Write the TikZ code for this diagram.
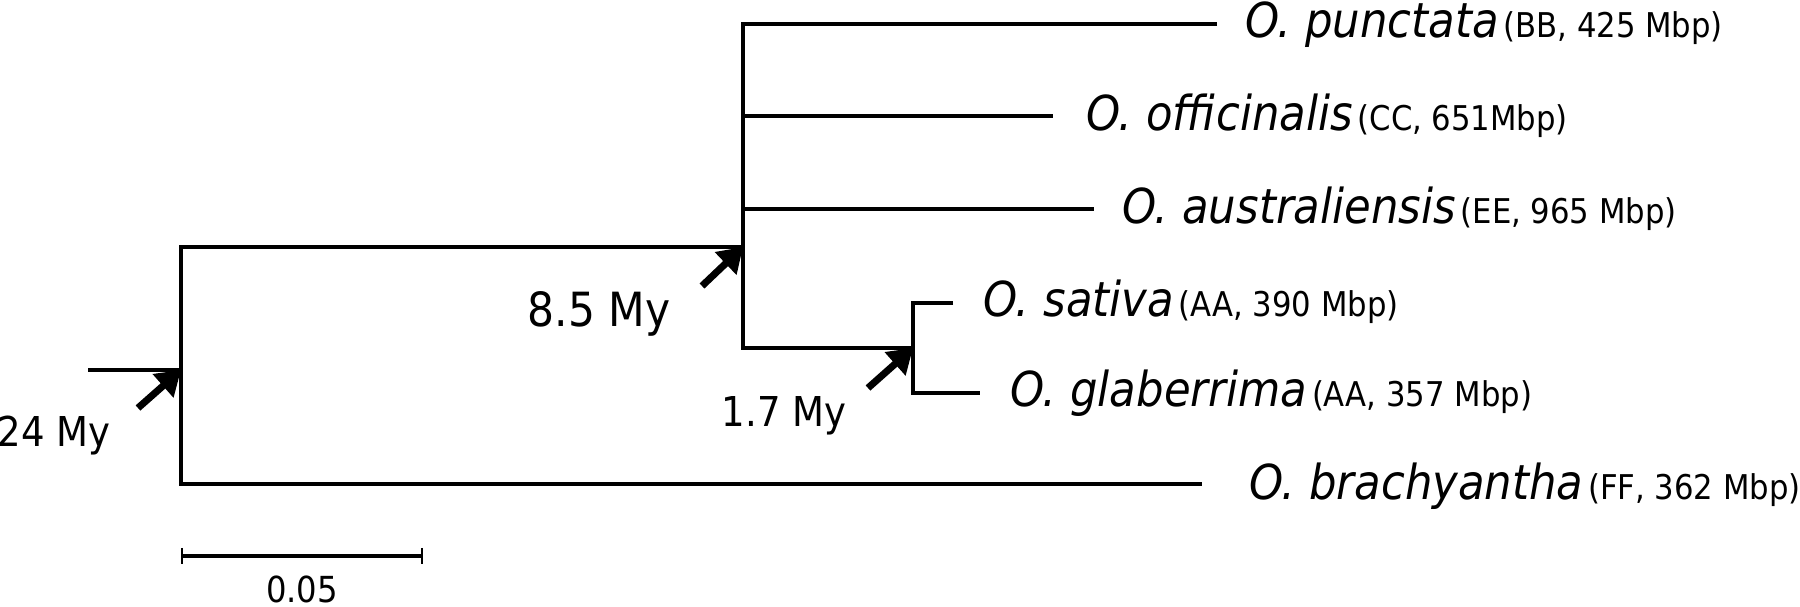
\documentclass[tikz,border=0pt]{standalone}
\usepackage{fontspec}
\setmainfont{DejaVu Sans Condensed}[ItalicFont={DejaVu Sans Condensed Oblique}]
\usetikzlibrary{arrows.meta,positioning}

\newcommand{\taxsp}[2]{#1\hspace{0.1em}{\upshape\fontsize{9.7}{11}\selectfont(#2)}}

\begin{document}
\begin{tikzpicture}[x=0.01cm,y=-0.01cm,
    branch/.style={line width=0.9pt},
    dated/.style={line width=2pt,-{Triangle[length=0.24cm,width=0.3cm]}},
    taxon/.style={anchor=base west,inner sep=0pt,font=\fontsize{13.7}{15}\selectfont\itshape},
    age/.style={anchor=base west,inner sep=0pt}]
  \useasboundingbox (0,0) rectangle (1800,607);
  % inner nodes
  \coordinate (r) at (88,370);
  \coordinate (n0) at (181,370);
  \coordinate (n1) at (743,247);
  \coordinate (n2) at (913,348);
  % tips
  \coordinate (punc) at (1217,24);
  \coordinate (offi) at (1053,116);
  \coordinate (aust) at (1094,209);
  \coordinate (sati) at (953,303);
  \coordinate (glab) at (980,393);
  \coordinate (brac) at (1202,484);
  % branches
  \draw[branch] (r) -- (n0);
  \draw[branch] (n1) -- (n0 |- n1) -- (n0 |- brac) -- (brac);
  \draw[branch] (punc) -- (n1 |- punc) -- (n1 |- n2) -- (n2);
  \draw[branch] (n1 |- offi) -- (offi);
  \draw[branch] (n1 |- aust) -- (aust);
  \draw[branch] (sati) -- (n2 |- sati) -- (n2 |- glab) -- (glab);
  % species
  \node[taxon] (lpunc) at ([xshift=0.28cm,yshift=-0.14cm]punc) {\taxsp{O. punctata}{BB, 425 Mbp}};
  \node[taxon] (loffi) at ([xshift=0.33cm,yshift=-0.15cm]offi) {\taxsp{O. officinalis}{CC, 651Mbp}};
  \node[taxon] (laust) at ([xshift=0.28cm,yshift=-0.15cm]aust) {\taxsp{O. australiensis}{EE, 965 Mbp}};
  \node[taxon] (lsati) at ([xshift=0.30cm,yshift=-0.13cm]sati) {\taxsp{O. sativa}{AA, 390 Mbp}};
  \node[taxon] (lglab) at ([xshift=0.30cm,yshift=-0.13cm]glab) {\taxsp{O. glaberrima}{AA, 357 Mbp}};
  \node[taxon] (lbrac) at ([xshift=0.47cm,yshift=-0.15cm]brac) {\taxsp{O. brachyantha}{FF, 362 Mbp}};
  % divergence times
  \coordinate (a0) at (138,408);
  \coordinate (a1) at (702,286);
  \coordinate (a2) at (868,388);
  \draw[dated] (a0) -- (n0);
  \draw[dated] (a1) -- (n1);
  \draw[dated] (a2) -- (n2);
  \node[age,font=\fontsize{11.7}{13}\selectfont] (t0) at (-3,447) {24 My};
  \node[age,font=\fontsize{13.4}{15}\selectfont] (t1) at (527,327) {8.5 My};
  \node[age,font=\fontsize{11.7}{13}\selectfont] (t2) at (721,427) {1.7 My};
  % scale bar
  \coordinate (s0) at (182,556);
  \coordinate (s1) at (422,556);
  \draw[branch] (s0) -- (s1);
  \draw[line width=0.5pt] ([yshift=0.08cm]s0) -- ([yshift=-0.08cm]s0);
  \draw[line width=0.5pt] ([yshift=0.08cm]s1) -- ([yshift=-0.08cm]s1);
  \node[anchor=base,inner sep=0pt,font=\fontsize{10.2}{12}\selectfont] (sl) at (302,603) {0.05};
\end{tikzpicture}
\end{document}
